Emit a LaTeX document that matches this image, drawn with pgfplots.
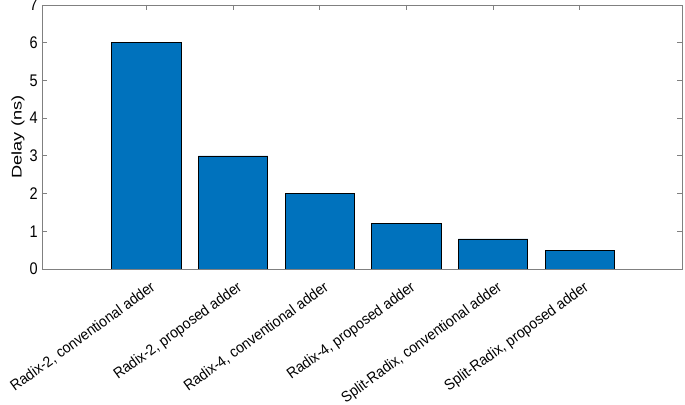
\documentclass[border=0pt]{standalone}
\usepackage{graphicx}
\usepackage{pgfplots}
\pgfplotsset{compat=1.18}
\usepackage{fontspec}
\setmainfont{Liberation Sans}
\definecolor{mblue}{RGB}{0,114,189}
\definecolor{axgray}{RGB}{128,128,128}
\newcommand\sy[1]{\scalebox{1}[1.075]{#1}}
\begin{document}
\begin{tikzpicture}
\begin{axis}[
  scale only axis,
  width=640pt, height=264pt,
  xmin=-0.205, xmax=7.18,
  ymin=0, ymax=7,
  ytick={0,1,2,3,4,5,6,7},
  xtick={1,2,3,4,5,6},
  xticklabels={{\sy{Radix-2, conventional adder}},{\sy{Radix-2, proposed adder}},{\sy{Radix-4, conventional adder}},{\sy{Radix-4, proposed adder}},{\sy{Split-Radix, conventional adder}},{\sy{Split-Radix, proposed adder}}},
  xticklabel style={rotate=36, anchor=north east, inner sep=1pt, yshift=-10pt, xshift=-3pt, font=\fontsize{14}{16}\selectfont},
  yticklabel={\scalebox{1}[1.16]{\pgfmathprintnumber{\tick}}},
  yticklabel style={inner sep=1pt, xshift=-3pt, font=\fontsize{14.5}{16}\selectfont},
  /pgf/number format/assume math mode=true,
  ylabel={\scalebox{1.3}[1]{Delay (ns)}},
  every axis y label/.style={at={(rel axis cs:0,0.5)}, rotate=90, anchor=center, yshift=24pt, font=\fontsize{14}{16}\selectfont},
  axis line style={axgray, line width=0.8pt},
  tick style={axgray, line width=0.8pt},
  major tick length=5pt,
  tick align=inside,
  xtick pos=both, ytick pos=both,
]
\addplot[ybar, bar width=69.4pt, fill=mblue, draw=black, line width=0.6pt] coordinates {
  (1,6) (2,3) (3,2) (4,1.2) (5,0.8) (6,0.5)
};
\end{axis}
\pgfresetboundingbox
\path[use as bounding box] ([xshift=-42pt,yshift=-136pt]current axis.south west) rectangle ([xshift=3pt,yshift=5pt]current axis.north east);
\end{tikzpicture}
\end{document}
